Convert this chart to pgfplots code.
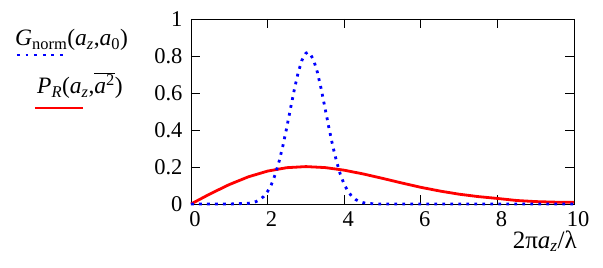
\documentclass[border=0pt]{standalone}
\usepackage{fontspec}
\setmainfont{Liberation Serif}
\usepackage{pgfplots}
\pgfplotsset{compat=1.18}
\begin{document}
\fontsize{22bp}{26bp}\selectfont
\begin{tikzpicture}
\useasboundingbox (-191bp,-64bp) rectangle (412bp,204bp);
\begin{axis}[
  scale only axis, width=383bp, height=185bp,
  xmin=0, xmax=10, ymin=0, ymax=1,
  xtick={0,2,4,6,8,10}, ytick={0,0.2,0.4,0.6,0.8,1},
  tick align=inside, major tick length=9bp,
  axis line style={line width=0.9bp},
  tick style={black, line width=0.8bp},
  clip=false,
  /pgf/number format/assume math mode=true,
  xticklabel={\pgfmathprintnumber{\tick}},
  yticklabel={\pgfmathprintnumber{\tick}},
  tick label style={font=\fontsize{22.5bp}{26bp}\selectfont},
  xticklabel style={xshift=4bp, yshift=0bp},
  yticklabel style={xshift=-1bp},
]
\addplot[red, line width=2.8bp] coordinates {
(0,0) (0.5,0.0548) (1,0.1051) (1.5,0.1471) (2,0.1779) (2.5,0.1963) (3,0.2022)
(3.5,0.1969) (4,0.1827) (4.5,0.1623) (5,0.1386) (5.5,0.1138) (6,0.0902)
(6.5,0.0700) (7,0.0530) (7.5,0.0400) (8,0.0300) (8.5,0.0190) (9,0.0130)
(9.5,0.0100) (10,0.0090)
};
\addplot[blue, line width=2.8bp, dash pattern=on 2.8bp off 5.2bp] coordinates {
(0,0) (1,0) (1.5,0.0036) (1.6,0.0070) (1.7,0.0133) (1.8,0.0239) (1.9,0.0411)
(2.0,0.068) (2.1,0.106) (2.2,0.160) (2.3,0.230) (2.4,0.315) (2.5,0.413)
(2.6,0.518) (2.7,0.621) (2.8,0.712) (2.9,0.779) (3.0,0.815) (3.05,0.820)
(3.1,0.815) (3.2,0.779) (3.3,0.712) (3.4,0.621) (3.5,0.518) (3.6,0.413)
(3.7,0.315) (3.8,0.230) (3.9,0.160) (4.0,0.106) (4.1,0.068) (4.2,0.041)
(4.3,0.024) (4.4,0.013) (4.5,0.007) (4.6,0.0036) (4.8,0.0007) (5,0) (10,0)
};
\end{axis}
\node[anchor=base east, inner sep=0pt, font=\fontsize{25bp}{28bp}\selectfont] at (386bp,-44bp)
  {2π\textit{a}\textsubscript{\textit{z}}/λ};
\node[anchor=base west, inner sep=0pt, font=\fontsize{23.5bp}{28bp}\selectfont] at (-176bp,158bp)
  {\textit{G}\textsubscript{norm}(\textit{a}\textsubscript{\textit{z}},\textit{a}\textsubscript{0})};
\draw[blue, line width=2.8bp, dash pattern=on 2.8bp off 5.8bp] (-174bp,149bp) -- (-127bp,149bp);
\node[anchor=base west, inner sep=0pt, font=\fontsize{23.5bp}{28bp}\selectfont] at (-154bp,110bp)
  {\textit{P}\textsubscript{\textit{R}}(\textit{a}\textsubscript{\textit{z}},$\overline{\mbox{\textit{a}\textsuperscript{2}}}$)};
\draw[red, line width=2.8bp] (-156bp,96bp) -- (-108bp,96bp);
\end{tikzpicture}
\end{document}
